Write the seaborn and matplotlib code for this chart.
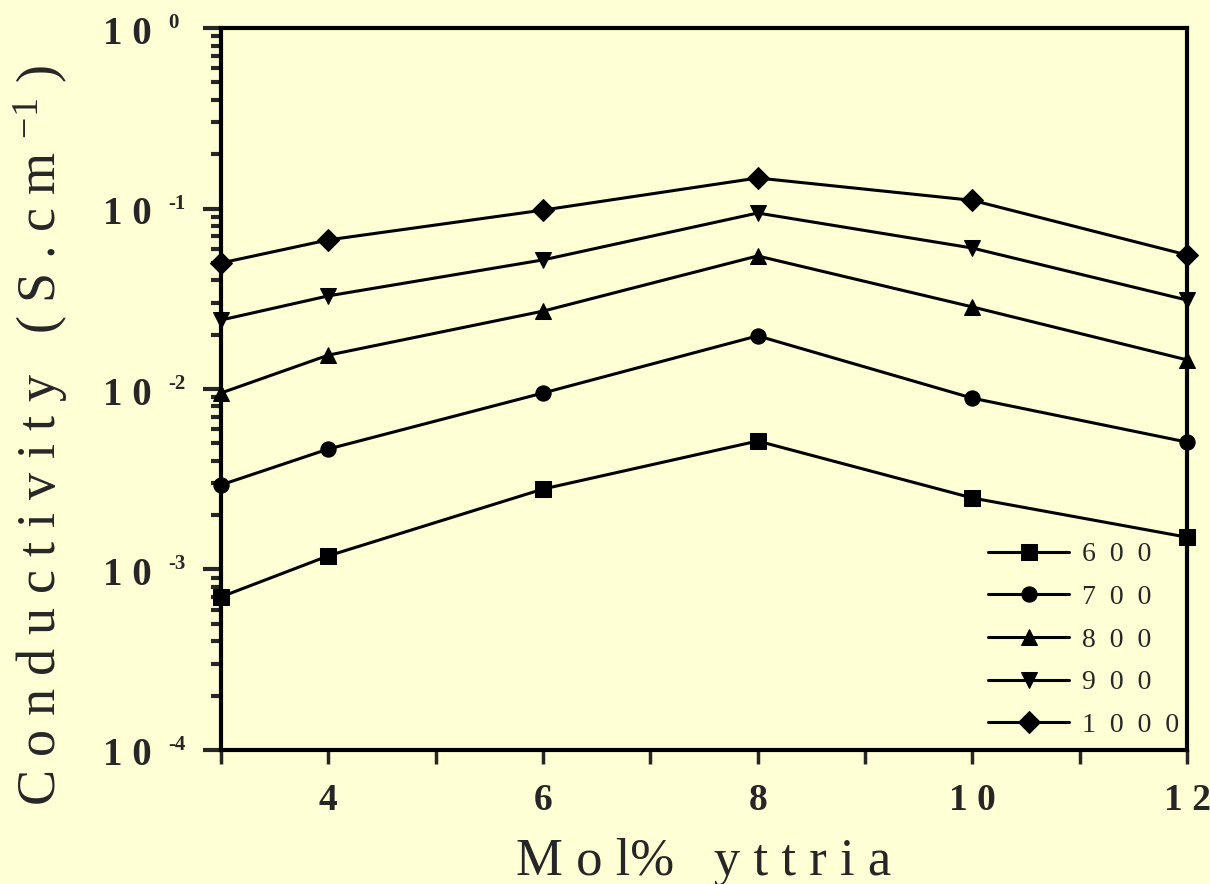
import pandas as pd
import matplotlib
matplotlib.use("Agg")
import matplotlib.pyplot as plt
import matplotlib.ticker as mticker
import matplotlib.transforms as mtrans
import seaborn as sns

# values (log scale)
mol = [3, 4, 6, 8, 10, 12]
s600 = [0.000705, 0.00119, 0.00279, 0.00515, 0.00249, 0.00151]
s700 = [0.00294, 0.00465, 0.0095, 0.0197, 0.0089, 0.00508]
s800 = [0.0095, 0.0154, 0.027, 0.0546, 0.0285, 0.0145]
s900 = [0.0241, 0.0328, 0.0519, 0.0944, 0.0604, 0.0311]
s1000 = [0.0499, 0.067, 0.098, 0.1476, 0.111, 0.0553]
temps = ["6  0  0", "7  0  0", "8  0  0", "9  0  0", "1  0  0  0"]
xtick_vals = [4, 6, 8, 10, 12]
xtick_labels = ["4", "6", "8", "1 0", "1 2"]
ytick_vals = [1e-4, 1e-3, 1e-2, 1e-1, 1]
ytick_exps = ["-4", "-3", "-2", "-1", "0"]

rows = []
for t, vals in zip(temps, [s600, s700, s800, s900, s1000]):
    for x, v in zip(mol, vals):
        rows.append({"mol": x, "sigma": v, "T": t})
df = pd.DataFrame(rows)

bg = "#FFFFD6"
sns.set_style("ticks")
plt.rcParams["font.family"] = ["Liberation Serif", "DejaVu Serif"]
plt.rcParams["mathtext.fontset"] = "custom"
plt.rcParams["mathtext.rm"] = "Liberation Serif"
plt.rcParams["mathtext.it"] = "Liberation Serif:italic"
plt.rcParams["mathtext.bf"] = "Liberation Serif:bold"

fig = plt.figure(figsize=(12.1, 8.84), dpi=100, facecolor=bg)
ax = fig.add_axes([0.1826, 0.1516, 0.7984, 0.8167])
ax.set_facecolor(bg)

markers = {temps[0]: "s", temps[1]: "o", temps[2]: "^", temps[3]: "v", temps[4]: "D"}
palette = {t: "black" for t in temps}
sns.lineplot(data=df, x="mol", y="sigma", hue="T", style="T", hue_order=temps,
             style_order=temps, markers=markers, dashes=False, palette=palette,
             markersize=11, linewidth=2.2, markeredgecolor="black", ax=ax, clip_on=False)

ax.set_yscale("log")
ax.set_ylim(1e-4, 1)
ax.set_xlim(3, 12)
ax.set_yticks(ytick_vals)
ax.set_yticklabels([""] * len(ytick_vals))
ax.yaxis.set_minor_locator(mticker.LogLocator(base=10, subs=range(2, 10)))
ax.yaxis.set_minor_formatter(mticker.NullFormatter())
ax.set_xticks(xtick_vals)
ax.set_xticklabels(xtick_labels, fontsize=27, fontweight="bold")
ax.set_xticks([3, 5, 7, 9, 11], minor=True)

# y tick labels: "1 0" plus a small raised exponent
trans = mtrans.blended_transform_factory(ax.transAxes, ax.transData)
shift = mtrans.ScaledTranslation(0, -6 / 100, fig.dpi_scale_trans)
for v, e in zip(ytick_vals, ytick_exps):
    ax.text(-0.0714, v, "1 0", transform=trans + shift, ha="right", va="center",
            fontsize=28, fontweight="bold")
    ax.text(-0.0549, v, e, transform=trans, ha="left", va="baseline",
            fontsize=15, fontweight="bold")

ax.tick_params(axis="y", which="major", direction="out", length=13, width=3, pad=8)
ax.tick_params(axis="y", which="minor", direction="out", length=7, width=3)
ax.tick_params(axis="x", which="both", direction="out", length=10, width=2.5, pad=14)
for sp in ax.spines.values():
    sp.set_linewidth(3)
    sp.set_color("black")

ax.set_xlabel("M o l%   y t t r i a", fontsize=38, labelpad=14)
ax.set_ylabel(r"C o n d u c t i v i t y   ( S . c m $^{-1}$ )", fontsize=39)
ax.yaxis.set_label_coords(-0.156, 0.436)

leg = ax.legend(loc="lower right", bbox_to_anchor=(1.0, 0.005), frameon=False,
                fontsize=20, handlelength=2.9, labelspacing=0.62, handletextpad=0.45,
                borderaxespad=0, borderpad=0.3)
for h in leg.legend_handles:
    h.set_linewidth(2.2)
    h.set_markersize(11)

fig.savefig("out.png", dpi=100, facecolor=bg)
